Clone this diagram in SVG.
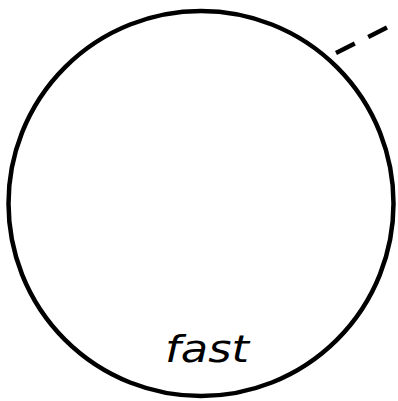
<svg xmlns="http://www.w3.org/2000/svg" width="398" height="401" viewBox="0 0 398 401">
<style>
.s{fill:none;stroke:#000;stroke-width:4.5}
.t{font-family:"DejaVu Sans",sans-serif;font-style:italic;font-size:38px;fill:#000}
</style>
<rect width="398" height="401" fill="#fff"/>
<g id="connectors">
<path class="s" d="M336,53 L390,26" stroke-dasharray="21,15" stroke-width="4"/>
</g>
<g id="node-fast">
<circle class="s" cx="201" cy="203.5" r="192.5"/>
<text class="t" x="207" y="362" text-anchor="middle" textLength="84" lengthAdjust="spacingAndGlyphs">fast</text>
</g>
</svg>
